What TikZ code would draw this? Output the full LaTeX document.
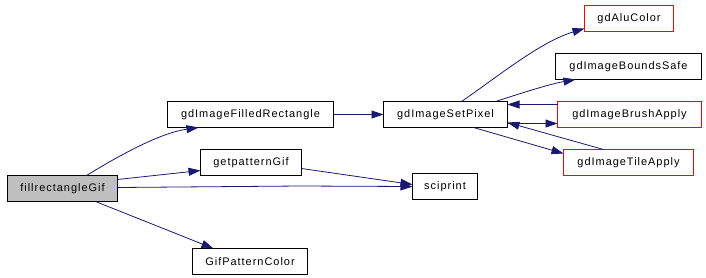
\documentclass[tikz,border=0pt]{standalone}
\usepackage{fontspec}
\setmainfont[LetterSpace=9]{Liberation Sans}
\usetikzlibrary{arrows.meta,calc}
\definecolor{edgeblue}{RGB}{25,25,112}
\definecolor{nodegray}{RGB}{191,191,191}
\begin{document}
\begin{tikzpicture}[x=1bp,y=-1bp,
  base/.style={line width=1bp,outer sep=0pt,inner sep=0pt,minimum height=26bp,font=\fontsize{11}{13}\selectfont,anchor=north west},
  fn/.style={base,draw=black},
  redfn/.style={base,draw=red},
  cur/.style={fn,fill=nodegray},
  call/.style={draw=edgeblue,line width=0.8bp,-{Triangle[length=12bp,width=8bp]}}]
\useasboundingbox (0,0) rectangle (706,277);
\node[cur,minimum width=110bp] (frg) at (7.5,175.5) {fillrectangleGif};
\node[fn,minimum width=166bp] (ifr) at (167.5,101.5) {gdImageFilledRectangle};
\node[fn,minimum width=101bp] (gpg) at (200.5,149.5) {getpatternGif};
\node[fn,minimum width=115bp] (gpc) at (192.5,248.5) {GifPatternColor};
\node[fn,minimum width=65bp] (sci) at (412.5,173.5) {sciprint};
\node[fn,minimum width=124bp] (isp) at (383.5,101.5) {gdImageSetPixel};
\node[redfn,minimum width=89bp] (alu) at (584.5,5.5) {gdAluColor};
\node[fn,minimum width=146bp] (ibs) at (555.5,53.5) {gdImageBoundsSafe};
\node[redfn,minimum width=144bp] (iba) at (557.5,101.5) {gdImageBrushApply};
\node[redfn,minimum width=130bp] (ita) at (563.5,149.5) {gdImageTileApply};
% fillrectangleGif calls
\draw[call] ($(frg.north west)+(79,0)$) .. controls (120,155) and (160,133) .. ($(ifr.south west)+(31,0)$);
\draw[call] ($(frg.north east)+(0,4)$) -- ($(gpg.north west)+(0,21)$);
\draw[call] ($(frg.north east)+(0,12)$) -- (300,186) -- ($(sci.north west)+(0,13)$);
\draw[call] ($(frg.south west)+(88,0)$) -- ($(gpc.north west)+(21,0)$);
\draw[call] ($(gpg.north east)+(0,19)$) -- ($(sci.north west)+(0,11)$);
\draw[call] (ifr.east) -- (isp.west);
% gdImageSetPixel calls
\draw[call] ($(isp.north west)+(78,0)$) .. controls (500,75) and (540,42) .. ($(alu.south west)+(0,-3)$);
\draw[call] ($(isp.north west)+(112,0)$) .. controls (525,92) and (550,84) .. ($(ibs.south west)+(20,0)$);
\draw[call] ($(iba.north west)+(0,3)$) -- ($(isp.north east)+(0,3)$);
\draw[call] ($(isp.north east)+(0,22)$) -- ($(iba.north west)+(0,22)$);
\draw[call] ($(ita.north west)+(40,0)$) -- ($(isp.north east)+(0,21)$);
\draw[call] ($(isp.south west)+(90,0)$) -- ($(ita.north west)+(0,4)$);
\end{tikzpicture}
\end{document}
